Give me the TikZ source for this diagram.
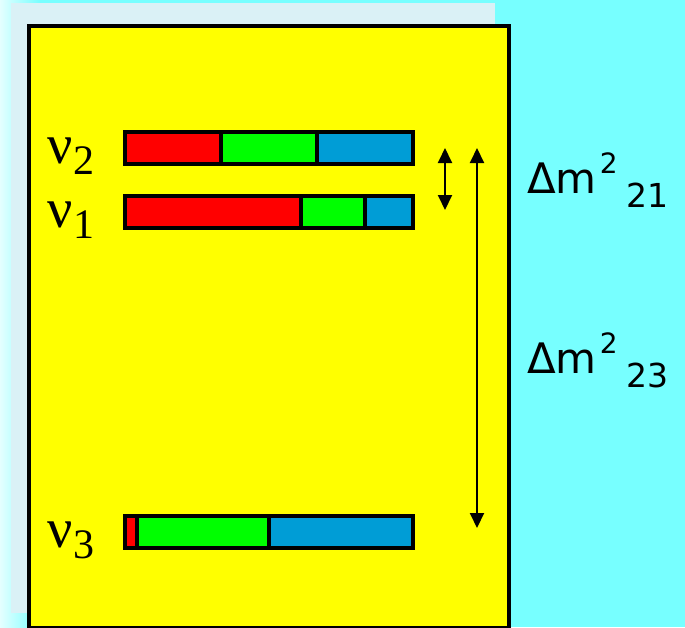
\documentclass[tikz,border=0pt]{standalone}
\usepackage{fontspec}
\newfontfamily\dmfont{DejaVu Sans}
\newfontfamily\nufont{Liberation Serif}
\usetikzlibrary{arrows.meta}

\definecolor{bgcyan}{HTML}{77FFFF}
\definecolor{bglight}{HTML}{E4FFFF}
\definecolor{panelblue}{HTML}{DAF1F6}
\definecolor{boxyellow}{HTML}{FFFF00}
\definecolor{barred}{HTML}{FF0000}
\definecolor{bargreen}{HTML}{00FF00}
\definecolor{barblue}{HTML}{009DD6}

\tikzset{
  barline/.style={line width=4pt},
  dmarrow/.style={line width=2pt,{Triangle[length=15pt,width=14pt]}-{Triangle[length=15pt,width=14pt]}},
  nulabel/.style={anchor=base west,inner sep=0pt,font=\nufont\fontsize{56}{60}\selectfont},
  dmlabel/.style={anchor=base west,inner sep=0pt,font=\dmfont\fontsize{42}{46}\selectfont}
}

\begin{document}
\begin{tikzpicture}[x=1pt,y=-1pt]
\useasboundingbox (0,0) rectangle (685,627);

% Fond
\fill[bgcyan] (0,0) rectangle (685,627);
\shade[left color=bglight,right color=bgcyan] (0,0) rectangle (40,627);
\fill[panelblue] (11,3) rectangle (495,613);

% Cadre jaune
\draw[barline,fill=boxyellow] (29,26) rectangle (509,628);

% Barres des etats de masse
\foreach \y/\r/\g/\n in {148/221/317/2, 212/301/365/1, 532/137/269/3}
{
    \fill[barred] (125,\y-16) rectangle (\r,\y+16);
    \fill[bargreen] (\r,\y-16) rectangle (\g,\y+16);
    \fill[barblue] (\g,\y-16) rectangle (413,\y+16);
    \draw[barline] (\r,\y-16) -- (\r,\y+16);
    \draw[barline] (\g,\y-16) -- (\g,\y+16);
    \draw[barline] (125,\y-16) rectangle (413,\y+16);

    \coordinate (short\n) at (445,\y);
    \coordinate (long\n) at (477,\y);

    \node[nulabel] (nu\n)
    at (47,\y+15)
    {ν\kern1pt\raisebox{-11pt}{\fontsize{42}{42}\selectfont \n}};
}

% Ecarts de masse
\draw[dmarrow,shorten >=2pt] (short2) -- (short1);
\draw[dmarrow,shorten >=4pt] (long2) -- (long3);

\node[dmlabel] (dm21)
at (527,193)
{Δm\hspace{3pt}\raisebox{20pt}{\fontsize{28}{28}\selectfont 2}\hspace{9pt}\raisebox{-14pt}{\fontsize{33}{33}\selectfont 21}};

\node[dmlabel] (dm23)
at (527,373)
{Δm\hspace{3pt}\raisebox{20pt}{\fontsize{28}{28}\selectfont 2}\hspace{9pt}\raisebox{-14pt}{\fontsize{33}{33}\selectfont 23}};

\end{tikzpicture}
\end{document}
